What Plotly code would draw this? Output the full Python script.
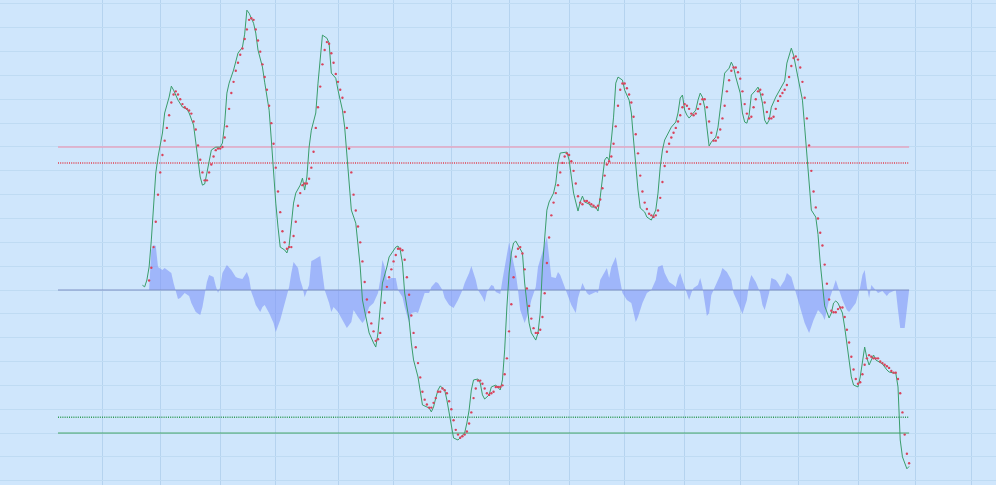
import plotly.graph_objects as go

# ---------------- data ----------------
# oscillator (green line): bar index and value
osc_bar = [38, 39, 40, 41, 42, 43, 44, 45, 47, 48, 50, 51, 52, 54, 56, 58, 59, 61, 62, 63, 64, 65, 66, 67, 68, 69, 71, 73, 74, 75,
           76, 77, 79, 80, 81, 83, 84, 85, 86, 88, 89, 90, 92, 93, 95, 96, 97, 98, 99, 100, 102, 103, 104, 105, 106, 107, 109, 110, 111, 112,
           113, 114, 116, 117, 118, 119, 121, 122, 123, 125, 126, 128, 129, 130, 131, 132, 134, 135, 136, 137, 139, 140, 142, 143, 144, 145, 146, 148, 149, 152,
           153, 154, 155, 156, 158, 159, 160, 162, 163, 164, 166, 167, 168, 169, 170, 171, 172, 174, 175, 176, 177, 178, 180, 181, 183, 184, 185, 186, 187, 189,
           190, 191, 192, 194, 195, 197, 198, 199, 200, 201, 202, 203, 204, 205, 206, 207, 209, 210, 211, 212, 213, 215, 216, 217, 218, 219, 220, 221, 223, 224,
           225, 226, 228, 229, 230, 231, 232, 234, 235, 236, 237, 239, 240, 242, 243, 244, 245, 246, 247, 248, 249, 250, 251, 252, 254, 255, 257, 258, 259, 260,
           261, 262, 264, 265, 267, 269, 270, 271, 272, 273, 275, 276, 278, 279, 280, 281, 282, 283, 284, 286, 287, 288, 289, 290, 291, 292, 293, 294, 296, 297,
           298, 299, 300, 302, 303, 304, 305, 307, 308, 309, 310, 311, 312, 314, 315, 316, 317, 318, 319, 320, 321, 323, 324, 325, 327, 328, 330, 331, 332, 333,
           335, 336, 337, 338, 339, 341, 342, 343, 344, 345, 347, 348, 349, 350, 351, 353, 354, 355, 356, 357, 358, 360, 361, 362, 363, 364, 365, 366, 367, 368,
           370, 371, 373, 374, 376, 377, 378, 379, 380, 381, 382, 383]
osc_val = [3, 2, 6.3, 14.5, 31.5, 52.2, 73.6, 83.7, 98.8, 111.4, 121.4, 128.3, 125.8, 119.5, 115.1, 113.9, 111.4, 103.8, 92.5, 81.8, 71.1, 66.0, 66.7, 73.6, 81.8, 88.1, 89.9, 89.9, 92.5, 105.0,
           123.9, 130.2, 138.4, 144.7, 149.1, 152.8, 161, 176.1, 174.2, 167.9, 161.7, 151.0, 140.3, 130.8, 113.2, 94.4, 73.6, 54.7, 39.6, 27.0, 25.2, 23.3, 28, 39.6, 54.7, 61.0, 66.0, 70.4, 62.9, 71.1,
           89.9, 100.6, 111.4, 130.2, 146.6, 160.4, 158.5, 155.4, 136.5, 133.3, 125.8, 113.2, 102.5, 86.2, 69.2, 50.3, 42.1, 29.6, 14.5, -6.3, -18.9, -27.0, -33.3, -35.9, -27.0, -10.7, 4.4, 14.5, 20.8, 27.0,
           27.7, 25.2, 17.0, -1.9, -18.9, -33.3, -44.0, -54.7, -64.8, -72.3, -73.6, -74.2, -76.7, -73.6, -67.9, -62.9, -60.4, -62.9, -69.2, -77.4, -86.2, -93.1, -94.4, -93.1, -89.9, -83.7, -75.5, -62.9, -56.6, -56.0,
           -58.5, -66.0, -68.6, -66.0, -61.0, -59.8, -61.6, -62.9, -56.6, -37.7, -10.7, 10.7, 23.3, 29.6, 30.8, 28.3, 23.3, 4.4, -10.7, -20.8, -27.0, -31.5, -27.0, -14.5, 14.5, 35.9, 50.3, 55.4, 61.0, 67.3,
           79.9, 86.2, 86.8, 86.8, 81.8, 71.1, 61.0, 49.7, 55.4, 59.1, 55.4, 54.1, 52.2, 52.2, 49.7, 58.5, 69.2, 81.8, 83.7, 81.8, 94.4, 108.8, 130.2, 134.0, 132.1, 125.8, 119.5, 111.4, 94.4, 77.4,
           62.9, 51.6, 49.1, 45.9, 44.0, 50.3, 61.0, 77.4, 88.1, 94.4, 99.4, 102.5, 105.7, 111.4, 120.8, 122.7, 113.2, 110.1, 108.2, 111.4, 113.2, 119.5, 123.9, 121.4, 115.1, 102.5, 90.6, 93.1, 96.2, 102.5,
           115.1, 125.8, 136.5, 139.6, 143.4, 140.3, 134.0, 123.9, 111.4, 105.7, 105.0, 110.1, 122.7, 125.8, 127.7, 123.9, 117.6, 106.9, 104.4, 106.9, 115.1, 121.4, 123.9, 125.8, 131.5, 142.8, 152.2, 147.8, 140.3, 134.0,
           119.5, 102.5, 83.7, 62.9, 50.3, 45.9, 35, 17, 1, -10, -17.6, -14.5, -8.2, -6.9, -8.2, -14.5, -23.3, -33.3, -44.0, -54.7, -59.8, -61.0, -54.7, -44.0, -35.9, -42.8, -47.2, -44.0, -40.9, -44.0,
           -45.9, -46.5, -50.3, -51.6, -52.2, -52.2, -61.0, -94.4, -105.0, -109, -112.5, -111]

# signal (red dots): one value per bar, starting at bar 41
signal_start = 41
signal_val = [6, 14, 27, 43, 60, 74, 85, 94, 102, 110, 118, 123, 125, 123, 120, 117, 115, 114, 113, 111,
              106, 101, 91, 82, 74, 69, 69, 74, 79, 84, 88, 89, 89, 90, 96, 103, 114, 124, 131, 138,
              143, 148, 152, 158, 164, 170, 171, 170, 164, 157, 150, 142,
              134, 126, 116, 105, 92, 77, 62, 49, 37, 30, 26, 27, 27, 34, 43, 53, 61, 66, 67, 67,
              70, 77, 87, 102, 115, 128, 142, 151, 156, 155, 149, 143, 136, 131, 126, 121, 112, 102, 89, 74,
              60, 50, 40, 30, 18, 5, -6, -14, -21, -26, -32, -31, -27, -18, -8, 2, 8, 13, 18,
              22, 26, 26, 25, 19, 8, -3, -16, -27, -36, -46, -55, -64, -69, -72, -74, -74, -71, -68, -64,
              -64, -62, -63, -65, -70, -75, -82, -88, -91, -93, -92, -91, -89, -84, -77, -68, -62, -57, -57, -59,
              -62, -65, -66, -65, -64, -61, -61, -61, -60, -53, -43, -26, -9, 8, 21, 26, 27, 23, 13,
              1, -10, -18, -24, -27, -27, -25, -17, -2, 17, 33, 47, 55, 61, 66, 74, 80, 84, 86, 85,
              81, 75, 67, 59, 55, 54, 56, 56, 55, 54, 53, 52, 53, 57, 64, 72, 79, 81, 84, 92,
              103, 116, 126, 130, 130, 127, 123, 118, 109, 98, 86, 72, 62, 55, 51, 48, 47, 46,
              47, 50, 58, 68, 78, 87, 92, 96, 99, 102, 106, 110, 115, 117, 116, 114, 111, 110, 111, 114,
              117, 120, 120, 115, 106, 99, 94, 94, 96, 101, 108, 116, 125, 132, 138, 140, 140, 137, 133, 125,
              117, 111, 108, 109, 115, 120, 125, 126, 123, 118, 112, 108, 108, 109, 114, 119, 122, 124, 126,
              129, 134, 141, 146, 147, 145, 140, 131, 121, 108, 91, 75, 62, 52, 45, 36, 28, 16, 4, -6,
              -13, -14, -14, -12, -11, -11, -17, -25, -33, -42, -50, -56, -59, -58, -53, -47, -43, -41, -42, -43,
              -43, -43, -45, -46, -47, -48, -49, -51, -52, -52, -56, -65, -77, -91, -103, -109]

# histogram (blue area): bar index and value
hist_bar = [41, 42, 43, 44, 45, 47, 48, 50, 51, 52, 53, 54, 55, 57, 59, 60, 62, 64, 65, 66, 67, 68, 70, 71, 72, 73, 74, 76, 78, 80,
            81, 83, 85, 86, 87, 88, 89, 91, 92, 93, 95, 97, 98, 100, 102, 104, 105, 106, 108, 109, 110, 111, 113, 114, 115, 117, 118, 119, 120, 122,
            123, 124, 126, 128, 130, 132, 133, 135, 137, 138, 140, 142, 144, 145, 146, 147, 148, 150, 152, 153, 155, 156, 158, 159, 161, 162, 164, 165, 167, 168,
            170, 171, 173, 174, 176, 178, 180, 182, 183, 185, 186, 188, 189, 191, 192, 193, 195, 196, 197, 199, 200, 202, 203, 204, 206, 207, 208, 210, 212, 213,
            215, 216, 218, 219, 220, 221, 222, 224, 225, 226, 228, 229, 231, 233, 234, 236, 238, 239, 242, 243, 244, 246, 247, 248, 249, 251, 252, 254, 256, 258,
            260, 261, 263, 265, 267, 269, 270, 272, 273, 275, 277, 278, 279, 280, 281, 283, 284, 285, 286, 288, 289, 290, 291, 292, 293, 294, 296, 298, 299, 301,
            303, 304, 306, 308, 310, 311, 312, 314, 316, 317, 318, 320, 321, 323, 324, 325, 327, 328, 330, 332, 334, 336, 338, 340, 342, 344, 345, 347, 349, 350,
            351, 353, 355, 356, 359, 361, 362, 363, 364, 365, 366, 368, 369, 371, 373, 374, 377, 378, 379, 381, 382, 383]
hist_val = [0, 25.2, 28.3, 27.7, 14.5, 12.6, 13.8, 11.9, 10.7, 4.4, -1.3, -5.7, -5.0, -1.9, -3.8, -8.2, -13.8, -15.7, -10.7, -1.9, 5.0, 9.4, 8.2, 2.5, -1.9, 1.9, 10.7, 15.7, 12.6, 8.2,
            7.5, 6.9, 11.3, 7.5, -1.3, -5.0, -9.4, -13.8, -10.7, -9.4, -14.5, -20.8, -26.4, -18.9, -8.2, 1.9, 10.7, 17.6, 13.8, 6.3, 1.9, -4.4, 3.1, 18.2, 18.9, 20.8, 21.4, 10.7, 0, -8.2,
            -13.8, -10.7, -13.8, -18.9, -23.9, -20.1, -12.6, -17.0, -20.8, -18.9, -10.7, -8.2, -1.9, 6.3, 18.9, 14.5, 6.3, 7.5, 7.5, 0, -4.4, -10.7, -20.8, -14.5, -13.8, -14.5, -6.3, -1.9, -1.9, 1.9,
            5.0, 4.4, 0, -5.0, -9.4, -11.3, -6.3, 0, 4.4, 10.7, 15.1, 6.3, 0, -4.4, -7.5, -1.3, 3.1, 2.5, -1.3, -2.5, 6.3, 20.8, 30.2, 23.3, 10.7, 0, -12.6, -20.8, -12.6, -6.3,
            1.9, 14.5, 23.3, 28.3, 33.3, 20.8, 8.2, 7.5, 11.3, 9.4, 1.9, -1.9, -9.4, -14.5, -5.0, 4.4, -1.9, -3.1, -1.3, -1.9, 6.3, 11.3, 13.8, 7.5, 14.5, 20.8, 12.6, -1.9, -6.3, -8.2,
            -20.1, -17.0, -8.2, -1.9, 0, 6.3, 14.5, 15.7, 10.7, 5.0, 3.1, 1.9, 7.5, 10.7, 6.3, -3.1, -6.3, -1.9, 1.3, 3.1, 7.5, 1.9, -7.5, -16.4, -14.5, -3.1, 3.1, 9.4, 13.8, 11.3,
            6.3, -1.9, -8.2, -15.1, -6.3, 4.4, 9.4, 5.0, -1.9, -9.4, -12.6, -1.9, 7.5, 6.3, 4.4, 1.9, 6.3, 10.7, 8.2, -1.3, -11.3, -20.8, -27.0, -18.9, -12.6, -15.7, -18.9, -6.3, 1.9, 6.3,
            1.9, -6.3, -12.6, -13.8, -8.2, 1.9, 9.4, 12.6, 1.9, -5.0, 3.1, 0, -1.9, -0.6, -3.8, -1.9, 0, -12.6, -23.9, -23.9, -10.7, 0]

# horizontal reference levels
level_first_bar = 0
level_last_bar = 383
upper_outer = 90
upper_inner = 80
lower_inner = -80
lower_outer = -90
zero_level = 0

# vertical grid positions (bars)
grid_bars = [20, 46, 73, 98, 126, 151, 177, 203, 230, 255, 282, 307, 333, 360, 386, 411]

# ---------------- figure ----------------
BG = "#cfe6fc"
fig = go.Figure()

signal_bar = list(range(signal_start, signal_start + len(signal_val)))
span = [level_first_bar, level_last_bar]

fig.add_trace(go.Scatter(x=hist_bar, y=hist_val, mode="lines", fill="tozeroy",
                         line=dict(width=0, color="rgba(120,142,248,0.6)"),
                         fillcolor="rgba(120,142,248,0.55)", hoverinfo="skip"))
fig.add_trace(go.Scatter(x=span, y=[zero_level, zero_level], mode="lines",
                         line=dict(color="#7f90c4", width=1.2), hoverinfo="skip"))
fig.add_trace(go.Scatter(x=span, y=[upper_outer, upper_outer], mode="lines",
                         line=dict(color="#e3a6c2", width=1.5), hoverinfo="skip"))
fig.add_trace(go.Scatter(x=span, y=[upper_inner, upper_inner], mode="lines",
                         line=dict(color="#e0404f", width=1.5, dash="1px,1.2px"), hoverinfo="skip"))
fig.add_trace(go.Scatter(x=span, y=[lower_inner, lower_inner], mode="lines",
                         line=dict(color="#2f9a55", width=1.5, dash="1px,1.2px"), hoverinfo="skip"))
fig.add_trace(go.Scatter(x=span, y=[lower_outer, lower_outer], mode="lines",
                         line=dict(color="#41a466", width=1), hoverinfo="skip"))
fig.add_trace(go.Scatter(x=osc_bar, y=osc_val, mode="lines",
                         line=dict(color="#3a9d6c", width=1), hoverinfo="skip"))
fig.add_trace(go.Scatter(x=signal_bar, y=signal_val, mode="markers",
                         marker=dict(color="#d9435c", size=2.4, line=dict(width=0)), hoverinfo="skip"))

fig.update_layout(
    width=996, height=485,
    margin=dict(l=0, r=0, t=0, b=0, pad=0),
    paper_bgcolor=BG, plot_bgcolor=BG,
    showlegend=False,
)
fig.update_xaxes(range=[-26.1, 422.1], tickvals=grid_bars, showticklabels=False,
                 showgrid=True, gridcolor="#b5d3ef", gridwidth=1, zeroline=False, showline=False, ticks="")
fig.update_yaxes(range=[-122.7, 182.5], tick0=0, dtick=15, showticklabels=False,
                 showgrid=True, gridcolor="#bfdbf3", gridwidth=1, zeroline=False, showline=False, ticks="")

fig.write_html("out.html", config={"displayModeBar": False},
               post_script="document.body.style.margin='0';document.body.style.overflow='hidden';")
